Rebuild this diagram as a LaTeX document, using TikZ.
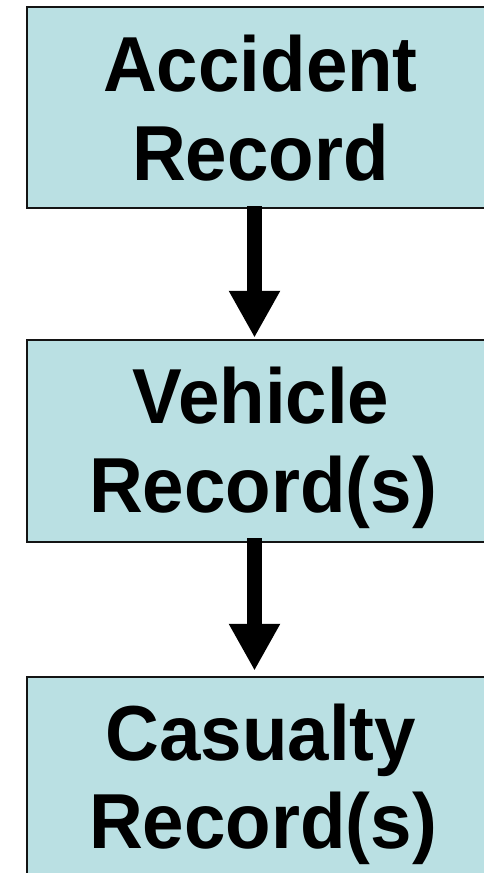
\documentclass[tikz,border=0pt]{standalone}
\usepackage{fontspec}
\setmainfont{Liberation Sans}
\newfontfamily\recfont[FakeStretch=0.955]{Liberation Sans}
\usetikzlibrary{arrows.meta}
\definecolor{boxfill}{RGB}{186,224,227}
\definecolor{boxline}{RGB}{20,20,20}
\tikzset{
  recbox/.style={draw=boxline, line width=2.5pt, fill=boxfill, rectangle,
    minimum width=459pt, inner sep=0pt},
  lbl/.style={anchor=base, inner sep=0pt, font=\recfont\fontsize{78}{89}\selectfont\bfseries},
  flow/.style={line width=15pt, -{Triangle[width=48pt,length=47pt]}}
}
\begin{document}
\begin{tikzpicture}[x=1pt,y=-1pt]
  \useasboundingbox (0,0) rectangle (483,873);
  % record boxes
  \node[recbox, minimum height=201pt] (acc) at (256.5,107.5) {};
  \node[recbox, minimum height=202pt] (veh) at (256.5,441) {};
  \node[recbox, minimum height=198pt] (cas) at (256.5,776) {};
  % box texts
  \node[lbl] (acc1) at (260.5,91) {Accident};
  \node[lbl] (acc2) at (260.5,180) {Record};
  \node[lbl] (veh1) at (261,423) {Vehicle};
  \node[lbl] (veh2) at (263,512) {Record(s)};
  \node[lbl] (cas1) at (261,760) {Casualty};
  \node[lbl] (cas2) at (263,848) {Record(s)};
  % arrows between the records
  \draw[flow] ([xshift=-2pt,yshift=3pt]acc.south) -- ([xshift=-2pt,yshift=1pt]veh.north);
  \draw[flow] ([xshift=-2pt,yshift=5pt]veh.south) -- ([xshift=-2pt,yshift=5pt]cas.north);
\end{tikzpicture}
\end{document}
